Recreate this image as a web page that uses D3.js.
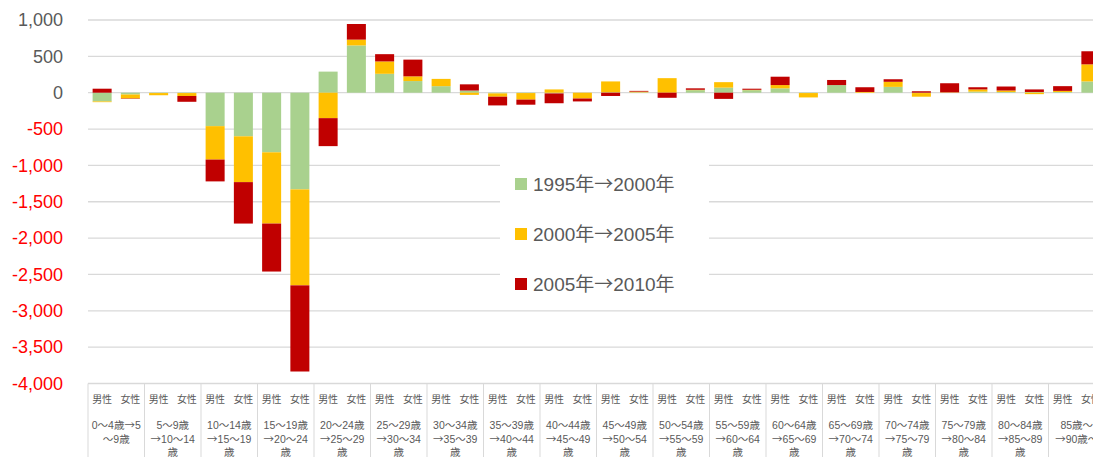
<!DOCTYPE html>
<html><head><meta charset="utf-8">
<script src="https://cdn.jsdelivr.net/npm/d3@7"></script>
<style>
html,body{margin:0;padding:0;background:#fff;overflow:hidden;}
svg{display:block;}
</style>
</head><body>
<svg id="chart" width="1093" height="457"></svg>
<script>
// ---- data ----
const ageGroups = [
  ["0～4歳→5","～9歳"],
  ["5～9歳","→10～14","歳"],
  ["10～14歳","→15～19","歳"],
  ["15～19歳","→20～24","歳"],
  ["20～24歳","→25～29","歳"],
  ["25～29歳","→30～34","歳"],
  ["30～34歳","→35～39","歳"],
  ["35～39歳","→40～44","歳"],
  ["40～44歳","→45～49","歳"],
  ["45～49歳","→50～54","歳"],
  ["50～54歳","→55～59","歳"],
  ["55～59歳","→60～64","歳"],
  ["60～64歳","→65～69","歳"],
  ["65～69歳","→70～74","歳"],
  ["70～74歳","→75～79","歳"],
  ["75～79歳","→80～84","歳"],
  ["80～84歳","→85～89","歳"],
  ["85歳～","→90歳～"]
];
const sexes = ["男性","女性"];
const seriesNames = ["1995年→2000年","2000年→2005年","2005年→2010年"];
// values in order: [group0 男性, group0 女性, group1 男性, ...]
const s1995_2000 = [-120,-25, -5,-5, -460,-600, -820,-1330, 290,650, 260,160, 90,30, -10,-5, -10,0, 5,5, 0,35, 70,35, 60,-5, 105,0, 80,-5, 0,15, 10,10, 10,155];
const s2000_2005 = [-10,-55, -30,-40, -460,-630, -980,-1320, -350,80, 170,65, 100,-30, -45,-90, 45,-80, 150,10, 200,5, 75,5, 45,-60, 0,10, 70,-50, 5,30, 20,-20, 15,235];
const s2005_2010 = [55,-5, 0,-80, -300,-570, -660,-1185, -385,215, 100,230, 0,85, -120,-70, -135,-40, -45,10, -70,20, -85,15, 115,0, 70,65, 35,20, 125,30, 55,35, 65,180];
const yTicks = [1000,500,0,-500,-1000,-1500,-2000,-2500,-3000,-3500,-4000];
const colors = ["#A9D18E","#FFC000","#C00000"];

// ---- layout ----
const W = 1093, H = 457;
const plotLeft = 88, catStep = 56.5;
const plotTop = 20, plotBottom = 383.5;
const svg = d3.select("#chart");
const latin = "'Liberation Sans', Arial, sans-serif";
const cjk = "'Noto Sans CJK JP', sans-serif";

// write text with arrows / CJK in CJK font and digits in latin font
function richText(sel, str){
  sel.text(null);
  const parts = str.match(/[0-9,\-\.]+|[^0-9,\-\.]+/g) || [];
  parts.forEach(p=>{
    sel.append("tspan").attr("font-family", /[0-9]/.test(p) ? latin : cjk).text(p);
  });
}

const catIdx = ageGroups.map((d,i)=>i);
const x0 = d3.scaleBand().domain(catIdx).range([plotLeft, plotLeft + catStep*ageGroups.length]).padding(0);
const x1 = d3.scaleBand().domain(sexes).range([0, x0.bandwidth()]).paddingInner(0.327).paddingOuter(0.1635);
const y = d3.scaleLinear().domain([-4000,1000]).range([plotBottom, plotTop]);

// rows
const rows = [];
ageGroups.forEach((g,i)=>sexes.forEach((s,j)=>{
  const k = i*2+j;
  rows.push({cat:i, sex:s, a:s1995_2000[k], b:s2000_2005[k], c:s2005_2010[k]});
}));
const stack = d3.stack().keys(["a","b","c"]).offset(d3.stackOffsetDiverging);
const stacked = stack(rows);

// gridlines
svg.append("g").selectAll("line").data(yTicks).join("line")
  .attr("x1", plotLeft).attr("x2", W)
  .attr("y1", d=>y(d)).attr("y2", d=>y(d))
  .attr("stroke", "#d9d9d9").attr("stroke-width", 1.3);

// y axis labels
const fmt = d3.format(",");
const yAxis = d3.axisLeft(y).tickValues(yTicks).tickFormat(d => fmt(d).replace("\u2212","-")).tickSize(0).tickPadding(25);
const ya = svg.append("g").attr("transform", `translate(${plotLeft},0)`).call(yAxis);
ya.select(".domain").remove();
ya.selectAll("text")
  .attr("font-family", latin)
  .attr("font-size", 18)
  .attr("fill", d => d < 0 ? "#FF0000" : "#595959");

// bars
svg.append("g").selectAll("g").data(stacked).join("g")
  .attr("fill", (d,i)=>colors[i])
  .selectAll("rect").data(d=>d).join("rect")
  .attr("x", d => x0(d.data.cat) + x1(d.data.sex))
  .attr("width", x1.bandwidth())
  .attr("y", d => y(Math.max(d[0], d[1])))
  .attr("height", d => Math.abs(y(d[0]) - y(d[1])));

// x axis table
const xa = svg.append("g");
const bounds = catIdx.map(i=>x0(i)).concat([x0(catIdx.length-1)+x0.bandwidth()]);
xa.selectAll("line").data(bounds).join("line")
  .attr("x1", d=>d).attr("x2", d=>d)
  .attr("y1", plotBottom).attr("y2", H)
  .attr("stroke", "#d9d9d9").attr("stroke-width", 1);
xa.selectAll("text.sex").data(rows).join("text").attr("class","sex")
  .attr("x", d => x0(d.cat) + x1(d.sex) + x1.bandwidth()/2)
  .attr("y", 403)
  .attr("text-anchor","middle")
  .attr("font-family", cjk).attr("font-size", 10)
  .attr("fill","#595959")
  .text(d=>d.sex);
const ag = xa.selectAll("g.age").data(ageGroups).join("g").attr("class","age");
ag.selectAll("text").data((d,i)=>d.map(t=>({t, i}))).join("text")
  .attr("x", d => x0(d.i) + x0.bandwidth()/2)
  .attr("y", (d,k) => 429 + k*13.5)
  .attr("text-anchor","middle")
  .attr("font-size", 10.5)
  .attr("fill","#595959")
  .each(function(d){ richText(d3.select(this), d.t); });

// legend
const lg = svg.append("g");
lg.append("rect").attr("x", 500).attr("y", 136).attr("width", 209).attr("height", 168).attr("fill", "#fff");
const items = lg.selectAll("g.item").data(seriesNames).join("g").attr("class","item")
  .attr("transform", (d,i)=>`translate(515,${184 + i*50})`);
items.append("rect").attr("x",0).attr("y",-6).attr("width",12).attr("height",12).attr("fill",(d,i)=>colors[i]);
items.append("text").attr("x",18).attr("y",0).attr("dy","0.35em")
  .attr("font-size",19)
  .attr("fill","#595959")
  .each(function(d){ richText(d3.select(this), d); });
</script>
</body></html>
